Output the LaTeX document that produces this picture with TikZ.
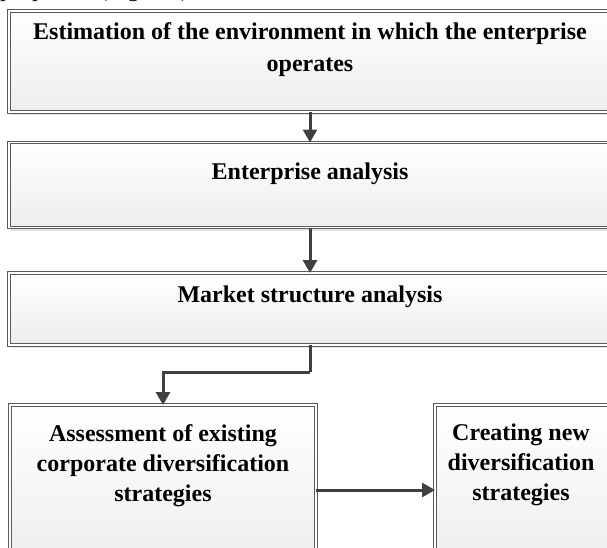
\documentclass[tikz,border=0pt]{standalone}
\usepackage{fontspec}
\setmainfont{Liberation Serif}
\usetikzlibrary{arrows.meta,shadows}
\definecolor{framec}{HTML}{5A5A5A}
\definecolor{arrowc}{HTML}{404040}
\tikzset{
  stagebox/.style={draw=framec, line width=0.9pt, double=white, double distance=1.5pt,
    top color=white, bottom color=gray!14, rectangle, inner sep=0pt, outer sep=0pt,
    drop shadow={shadow xshift=2pt, shadow yshift=-3pt, fill=gray!40, opacity=0.5}},
  stagetext/.style={font=\bfseries\fontsize{24}{30}\selectfont, align=center, inner sep=0pt, anchor=north},
  conn/.style={draw=arrowc, line width=3pt, -{Triangle[width=14pt,length=13pt]}},
  connline/.style={draw=arrowc, line width=3pt}
}
\begin{document}
\begin{tikzpicture}[x=1pt,y=-1pt]
\useasboundingbox (0,0) rectangle (607,547);
\clip (0,0) rectangle (607,547);
\node[anchor=base west, inner sep=0pt, font=\fontsize{24}{28}\selectfont] (intro) at (0,-4) {\makebox[195pt][s]{proposed (Fig. 2).}};
\node[stagebox, minimum width=640pt, minimum height=101pt] (b1) at (329,61.5) {};
\node[stagebox, minimum width=640pt, minimum height=85pt] (b2) at (329,185) {};
\node[stagebox, minimum width=640pt, minimum height=72pt] (b3) at (329,309) {};
\node[stagebox, minimum width=306pt, minimum height=165pt] (b4) at (163,487.5) {};
\node[stagebox, minimum width=200pt, minimum height=165pt] (b5) at (535,487.5) {};
\node[stagetext, font=\bfseries\fontsize{24}{32}\selectfont] (t1) at (310,22) {Estimation of the environment in which the enterprise\\operates};
\node[stagetext] (t2) at (310,163) {Enterprise analysis};
\node[stagetext] (t3) at (310,286) {Market structure analysis};
\node[stagetext] (t4) at (163,424) {Assessment of existing\\corporate diversification\\strategies};
\node[stagetext] (t5) at (521,424) {Creating new\\diversification\\strategies};
\coordinate (k) at (310,372);
\draw[conn] (b1.south -| 310,0) -- (b2.north -| 310,0);
\draw[conn] (b2.south -| 310,0) -- (b3.north -| 310,0);
\draw[connline] (b3.south -| k) -- (k);
\draw[conn] (k) -| (b4.north);
\draw[conn] (b4.east |- 0,490) -- (b5.west |- 0,490);
\end{tikzpicture}
\end{document}
